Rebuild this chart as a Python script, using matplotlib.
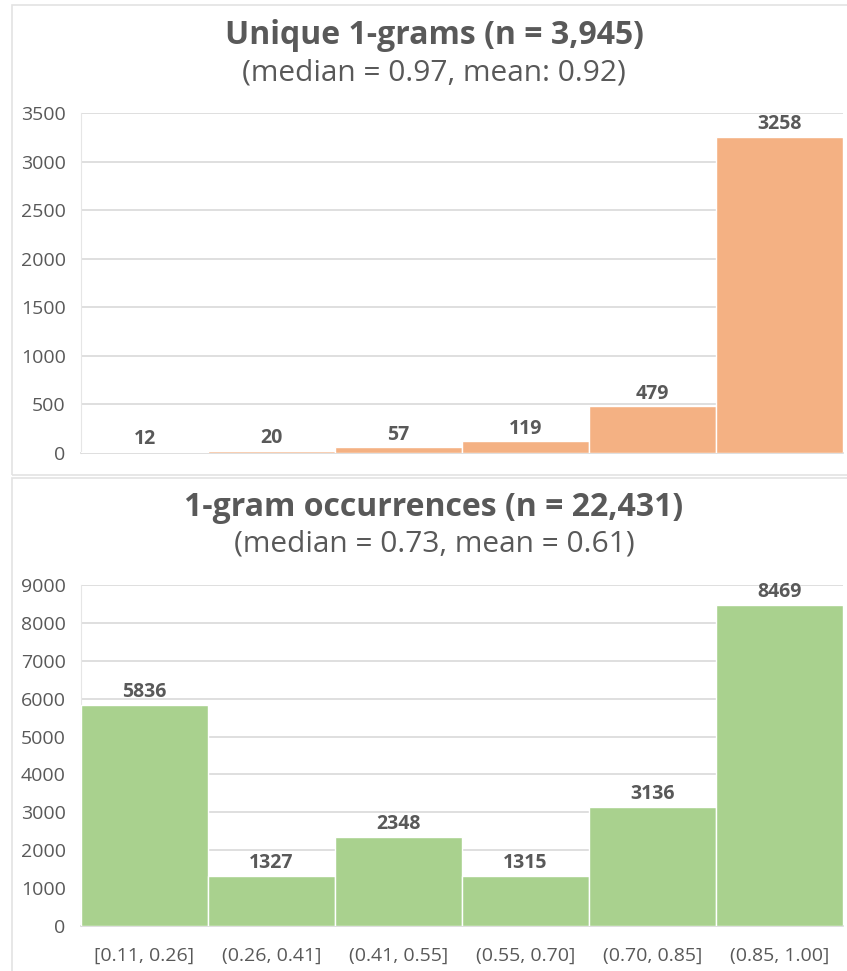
import matplotlib
matplotlib.use("Agg")
import matplotlib.pyplot as plt
from matplotlib.patches import Rectangle

# bin labels shared by both histograms
bins = ["[0.11, 0.26]", "(0.26, 0.41]", "(0.41, 0.55]", "(0.55, 0.70]", "(0.70, 0.85]", "(0.85, 1.00]"]
unique_counts = [12, 20, 57, 119, 479, 3258]
occurrence_counts = [5836, 1327, 2348, 1315, 3136, 8469]

TEXT = "#595959"
GRID = "#D9D9D9"
plt.rcParams["font.family"] = ["Open Sans", "DejaVu Sans"]

W, H = 847, 971
fig = plt.figure(figsize=(W / 100, H / 100), dpi=100)


def px_box(x0, y0, x1, y1):
    # pixel box (top-left origin) -> figure fraction rect
    return [x0 / W, 1 - y1 / H, (x1 - x0) / W, (y1 - y0) / H]


# chart frames
for y0, y1 in [(5, 475), (478, 975)]:
    fig.patches.append(Rectangle((12 / W, 1 - y1 / H), (W + 10 - 12) / W, (y1 - y0) / H,
                                 transform=fig.transFigure, fill=False,
                                 edgecolor="#E3E3E3", linewidth=1.2))


def draw(rect, counts, color, ymax, step, title, subtitle, title_y, show_x):
    ax = fig.add_axes(px_box(*rect))
    xs = list(range(len(counts)))
    ax.bar(xs, counts, width=1.0, color=color, edgecolor="white", linewidth=1, zorder=3)
    for x, v in zip(xs, counts):
        ax.annotate(str(v), (x, v), xytext=(0, 2), textcoords="offset points",
                    ha="center", va="bottom", fontsize=14, fontweight="bold",
                    color=TEXT, zorder=4)
    ax.set_xlim(-0.5, len(counts) - 0.5)
    ax.set_ylim(0, ymax)
    ax.set_yticks(range(0, ymax + 1, step))
    ax.grid(axis="y", color=GRID, linewidth=1.2, zorder=0)
    for s in ["top", "right"]:
        ax.spines[s].set_visible(False)
    ax.spines["left"].set_color("#E6E6E6")
    ax.spines["bottom"].set_color(GRID)
    ax.spines["bottom"].set_linewidth(1.2)
    ax.tick_params(axis="y", length=0, labelsize=14, labelcolor=TEXT, pad=11)
    ax.tick_params(axis="x", length=0, labelsize=14, labelcolor=TEXT, pad=15)
    if show_x:
        ax.set_xticks(xs)
        ax.set_xticklabels(bins)
    else:
        ax.set_xticks([])
    fig.text(434 / W, 1 - title_y / H, title, ha="center", va="center",
             fontsize=23, fontweight="bold", color=TEXT)
    fig.text(434 / W, 1 - (title_y + 37) / H, subtitle, ha="center", va="center",
             fontsize=21.5, color=TEXT)
    return ax


draw((81, 113, 843, 453), unique_counts, "#F4B183", 3500, 500,
     "Unique 1-grams (n = 3,945)", "(median = 0.97, mean: 0.92)", 36, False)
draw((81, 585, 843, 926), occurrence_counts, "#A9D18E", 9000, 1000,
     "1-gram occurrences (n = 22,431)", "(median = 0.73, mean = 0.61)", 507, True)

fig.savefig("out.png", dpi=100, facecolor="white")
